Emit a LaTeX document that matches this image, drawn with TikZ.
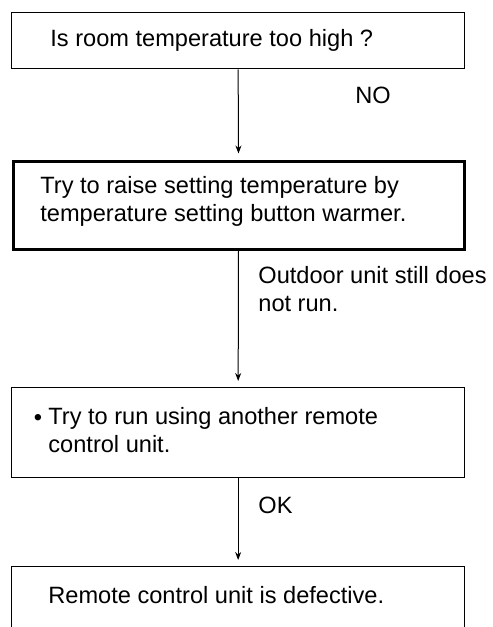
\documentclass[tikz,border=0pt]{standalone}
\usepackage{fontspec}
\setmainfont{Liberation Sans}
\usetikzlibrary{arrows.meta,positioning}

\begin{document}
\begin{tikzpicture}[
    x=0.5pt, y=-0.5pt,
    stepbox/.style={draw=black, line width=0.65pt, anchor=north west,
                    inner sep=0pt, minimum width=226.5pt},
    boldbox/.style={stepbox, line width=1.5pt, minimum width=225.5pt},
    flow/.style={-{Stealth[length=4pt, width=3pt]}, line width=0.5pt, shorten >=3pt},
    txt/.style={anchor=base west, align=left, inner sep=0pt,
                font=\fontsize{11.8}{14}\selectfont},
]

\useasboundingbox (0,0) rectangle (493,627);
\clip (0,0) rectangle (493,627);

% Boxes (the last one runs off the page)
\node[stepbox, minimum height=28pt] (check) at (11,12) {};
\node[boldbox, minimum height=44pt] (raise) at (11.5,159.5) {};
\node[stepbox, minimum height=45pt] (remote) at (11,387) {};
\node[stepbox, minimum height=40pt] (result) at (11,566) {};

% Box texts (base of a two-line node = its last line)
\node[txt] (checktext) at (50,46) {Is room temperature too high ?};
\node[txt] (raisetext) at (40,221)
    {Try to raise setting temperature by\\temperature setting button warmer.};
\node[txt] (dot) at (33.5,425) {\textbullet};
\node[txt] (remotetext) at (48,452)
    {Try to run using another remote\\control unit.};
\node[txt] (resulttext) at (48,603) {Remote control unit is defective.};

% Flow arrows
\draw[flow] (check.south) -- (raise.north);
\draw[flow] (raise.south) -- (remote.north);
\draw[flow] (remote.south) -- (result.north);

% Arrow labels
\node[txt] (no) at (355,103) {NO};
\node[txt] (still) at (258,311) {Outdoor unit still does\\not run.};
\node[txt] (ok) at (258,513) {OK};

\end{tikzpicture}
\end{document}
